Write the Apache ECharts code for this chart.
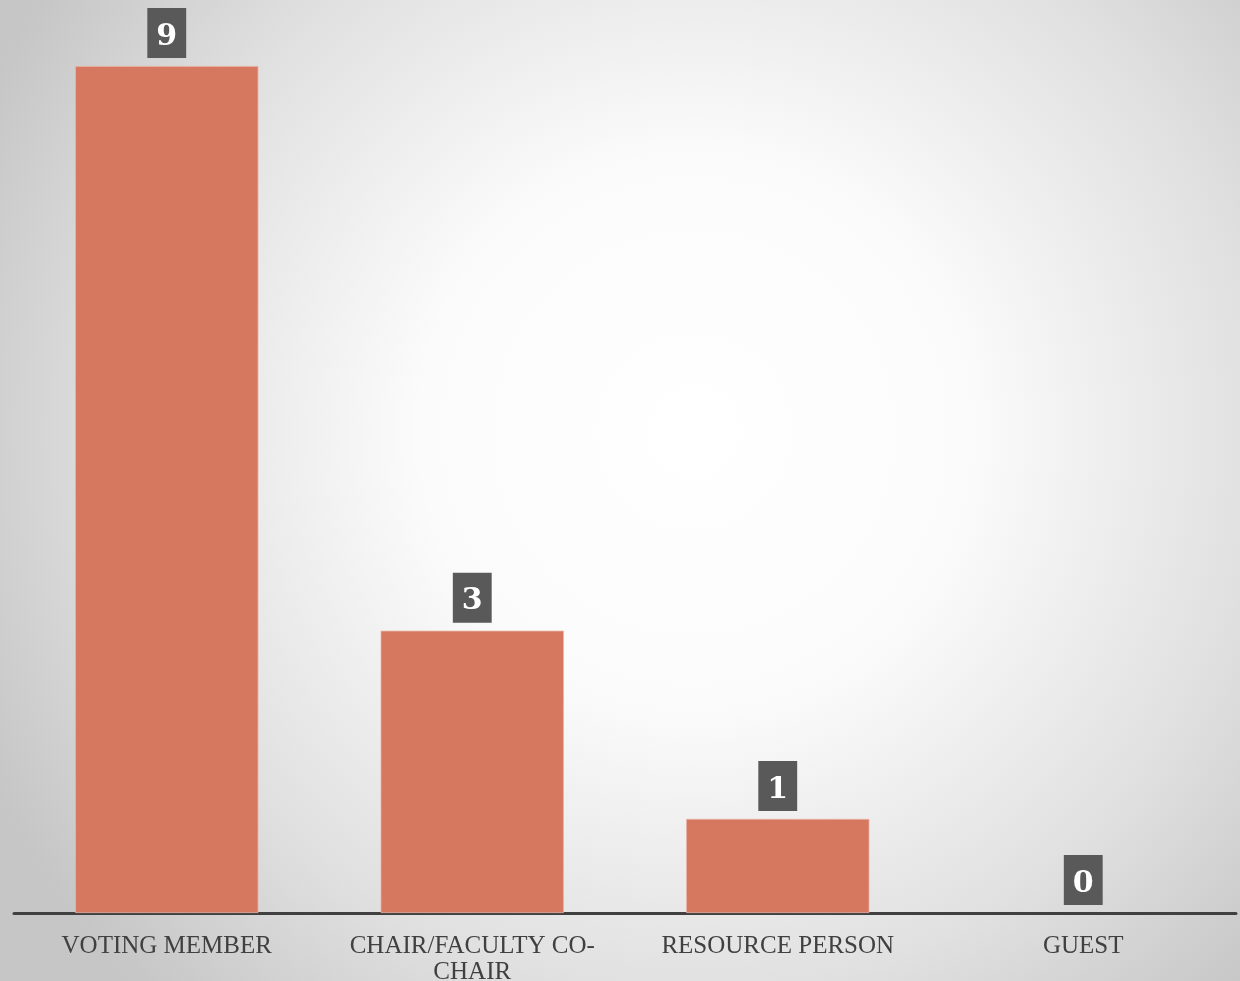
<!DOCTYPE html>
<html>
<head>
<meta charset="utf-8">
<script src="https://cdn.jsdelivr.net/npm/echarts@6/dist/echarts.min.js"></script>
<style>
html,body{margin:0;padding:0;}
#chart{width:1240px;height:981px;}
</style>
</head>
<body>
<div id="chart"></div>
<script>
const categories = ["VOTING MEMBER", "CHAIR/FACULTY CO-CHAIR", "RESOURCE PERSON", "GUEST"];
const values = [9, 3, 1, 0];

const chart = echarts.init(document.getElementById('chart'));
chart.setOption({
  backgroundColor: new echarts.graphic.RadialGradient(0.56, 0.44, 0.8, [
    {offset: 0, color: '#ffffff'},
    {offset: 0.35, color: '#fbfbfb'},
    {offset: 0.72, color: '#e0e0e0'},
    {offset: 1, color: '#c6c6c6'}
  ]),
  animation: false,
  grid: {left: 14, right: 4, top: 66, bottom: 68, containLabel: false, outerBoundsMode: 'none'},
  xAxis: {
    type: 'category',
    data: categories,
    axisLine: {show: true, lineStyle: {color: '#404040', width: 3}},
    axisTick: {show: false},
    axisLabel: {
      interval: 0,
      margin: 20,
      color: '#404040',
      fontFamily: 'Liberation Serif',
      fontSize: 25,
      lineHeight: 26,
      formatter: v => v.replace('CO-CHAIR', 'CO-\nCHAIR')
    }
  },
  yAxis: {
    type: 'value',
    min: 0,
    max: 9,
    show: false,
    splitLine: {show: false}
  },
  series: [{
    type: 'bar',
    data: values.map(v => v === 0 ? {value: v, itemStyle: {borderWidth: 0}} : v),
    barWidth: '60%',
    itemStyle: {color: '#d6775f', borderColor: '#eab3a4', borderWidth: 0.8},
    label: {
      show: true,
      position: 'top',
      distance: 8,
      backgroundColor: '#595959',
      color: '#ffffff',
      fontFamily: 'DejaVu Serif',
      fontWeight: 'bold',
      fontSize: 30,
      lineHeight: 30,
      padding: [14, 9, 6, 9],
      formatter: p => p.value
    }
  }]
});
</script>
</body>
</html>
